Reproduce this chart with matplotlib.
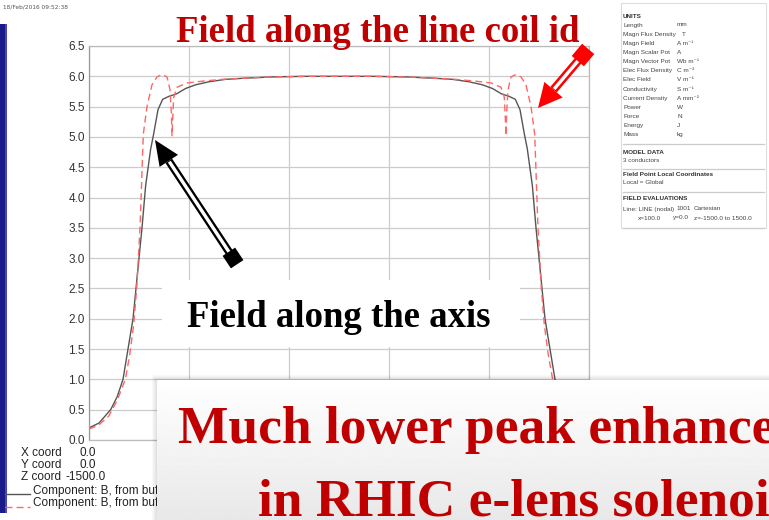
import numpy as np
import matplotlib
matplotlib.use("Agg")
import matplotlib.pyplot as plt
from matplotlib.patches import Rectangle, Polygon

# Bz along the line x=100, y=0 (red) and on axis (black), z in mm, B in T
z_axis = [-1500, -1440, -1370, -1330, -1296, -1266, -1236, -1218, -1200, -1182,
          -1160, -1130, -1112, -1086, -1058, -1020, -975, -920, -860, -780,
          -680, -560, -400, -200, 0, 200, 400, 560, 680, 780,
          860, 920, 975, 1020, 1058, 1086, 1112, 1130, 1160, 1182,
          1200, 1218, 1236, 1266, 1296, 1330, 1370, 1440, 1500]
b_axis = [0.20, 0.28, 0.50, 0.72, 1.00, 1.50, 2.00, 2.50, 3.00, 3.50,
          4.20, 4.80, 5.05, 5.45, 5.62, 5.67, 5.71, 5.80, 5.86, 5.91,
          5.95, 5.97, 5.99, 6.00, 6.00, 6.00, 5.99, 5.97, 5.95, 5.91,
          5.86, 5.80, 5.71, 5.67, 5.62, 5.45, 5.05, 4.80, 4.20, 3.50,
          3.00, 2.50, 2.00, 1.50, 1.00, 0.72, 0.50, 0.28, 0.20]

z_coil = [-1500, -1440, -1380, -1330, -1282, -1256, -1232, -1214, -1204, -1194,
          -1186, -1180, -1174, -1152, -1122, -1092, -1062, -1032, -1014, -1006,
          -1002, -998, -992, -972, -912, -820, -700, -560, -400, -200,
          0,
          200, 400, 560, 700, 820, 912, 972, 992, 998,
          1002, 1006, 1014, 1032, 1062, 1092, 1122, 1152, 1174, 1180,
          1186, 1194, 1204, 1214, 1232, 1256, 1282, 1330, 1380, 1440, 1500]
b_coil = [0.18, 0.25, 0.40, 0.66, 1.00, 1.40, 1.90, 2.50, 3.00, 3.50,
          4.10, 4.60, 5.05, 5.50, 5.86, 5.99, 6.03, 5.99, 5.78, 5.40,
          5.02, 5.30, 5.65, 5.82, 5.89, 5.92, 5.95, 5.97, 5.99, 6.00,
          6.00,
          6.00, 5.99, 5.97, 5.95, 5.92, 5.89, 5.82, 5.65, 5.30,
          5.02, 5.40, 5.78, 5.99, 6.03, 5.99, 5.86, 5.50, 5.05, 4.60,
          4.10, 3.50, 3.00, 2.50, 1.90, 1.40, 1.00, 0.66, 0.40, 0.25, 0.18]

y_ticks = [0.0, 0.5, 1.0, 1.5, 2.0, 2.5, 3.0, 3.5, 4.0, 4.5, 5.0, 5.5, 6.0, 6.5]
z_grid = [-1500, -900, -300, 300, 900, 1500]

units = [("Length", "mm"), ("Magn Flux Density", "T"), ("Magn Field", "A m\u207b\u00b9"),
         ("Magn Scalar Pot", "A"), ("Magn Vector Pot", "Wb m\u207b\u00b9"),
         ("Elec Flux Density", "C m\u207b\u00b2"), ("Elec Field", "V m\u207b\u00b9"),
         ("Conductivity", "S m\u207b\u00b9"), ("Current Density", "A mm\u207b\u00b2"),
         ("Power", "W"), ("Force", "N"), ("Energy", "J"), ("Mass", "kg")]

W, H = 769, 520
RED = "#c00000"
SERIF = "Liberation Serif"
SANS = "Liberation Sans"

fig = plt.figure(figsize=(W / 100, H / 100), dpi=100)
fig.patch.set_facecolor("white")


def px_rect(x0, y0, x1, y1):
    return [x0 / W, 1 - y1 / H, (x1 - x0) / W, (y1 - y0) / H]


# ---- main field plot ----
ax = fig.add_axes(px_rect(89, 46, 589, 440), zorder=1)
ax.plot(z_axis, b_axis, color="#555555", lw=1.0)
ax.plot(z_coil, b_coil, color="#ff6666", lw=1.0, dashes=(5, 3))
ax.set_xlim(-1500, 1500)
ax.set_ylim(0, 6.5)
ax.set_xticks(z_grid)
ax.set_xticklabels([])
ax.set_yticks(y_ticks)
ax.set_yticklabels([f"{v:.1f}" for v in y_ticks], fontfamily=SANS, fontsize=8.5, color="#333333")
ax.tick_params(length=0, pad=3)
ax.grid(True, color="#cccccc", lw=0.9)
for side, sp in ax.spines.items():
    sp.set_color("#bbbbbb")
    sp.set_linewidth(0.9)
ax.spines["left"].set_color("#999999")

# ---- annotations layer, pixel coordinates ----
deco = fig.add_axes([0, 0, 1, 1], zorder=2)
deco.set_xlim(0, W)
deco.set_ylim(H, 0)
deco.axis("off")
deco.patch.set_alpha(0)


def hollow_arrow(a, tail, tip, color, shaft=8.0, core=3.4, head_len=25, head_w=22, sq=15):
    tail = np.asarray(tail, float)
    tip = np.asarray(tip, float)
    u = (tip - tail) / np.hypot(*(tip - tail))
    n = np.array([-u[1], u[0]])
    base = tip - u * head_len
    a.add_patch(Polygon([tail + n * shaft / 2, base + n * shaft / 2,
                         base - n * shaft / 2, tail - n * shaft / 2], color=color, lw=0))
    a.add_patch(Polygon([tail + n * core / 2, base - u + n * core / 2,
                         base - u - n * core / 2, tail - n * core / 2], color="white", lw=0))
    a.add_patch(Polygon([tip, base + n * head_w / 2, base - n * head_w / 2], color=color, lw=0))
    h = sq / 2
    a.add_patch(Polygon([tail + u * h + n * h, tail + u * h - n * h,
                         tail - u * h - n * h, tail - u * h + n * h], color=color, lw=0))


# blank label area over the grid
deco.add_patch(Rectangle((162, 280), 358, 67, facecolor="white", lw=0))
deco.text(187, 327, "Field along the axis", fontfamily=SERIF, fontweight="bold",
          fontsize=26.5, color="black", va="baseline")
deco.text(176, 42, "Field along the line coil id", fontfamily=SERIF, fontweight="bold",
          fontsize=26.5, color=RED, va="baseline")

hollow_arrow(deco, (233, 258), (155, 140), "black")
hollow_arrow(deco, (583, 55), (538, 108), "#ff0000", shaft=8.5, core=3.4, head_len=24, head_w=24, sq=16)

# window frame stripe and timestamp
deco.add_patch(Rectangle((0, 24), 6, 489, facecolor="#1b1a8a", lw=0))
deco.add_patch(Rectangle((5, 24), 1.5, 489, facecolor="#4a48b0", lw=0))
deco.text(3, 7, "18/Feb/2016 09:52:38", fontfamily="DejaVu Sans", fontsize=4.2,
          color="#555555", va="center")

# coordinates / component legend under the plot
leg_kw = dict(fontfamily=SANS, fontsize=8.5, color="#222222", va="center")
deco.text(21, 453, "X coord", **leg_kw)
deco.text(79, 453, "0.0", **leg_kw)
deco.text(21, 465, "Y coord", **leg_kw)
deco.text(79, 465, "0.0", **leg_kw)
deco.text(21, 477, "Z coord", **leg_kw)
deco.text(66, 477, "-1500.0", **leg_kw)
deco.text(33, 491, "Component: B, from buffer", **leg_kw)
deco.text(33, 503, "Component: B, from buffer", **leg_kw)
deco.plot([5, 30], [494, 494], color="#555555", lw=1.0)
deco.plot([5, 30], [507, 507], color="#ff6666", lw=1.0, dashes=(5, 3))

# units / model panel
deco.add_patch(Rectangle((621, 3), 145, 225, facecolor="white", edgecolor="#dddddd", lw=0.8))
small = dict(fontfamily=[SANS, "DejaVu Sans"], fontsize=4.6, color="#444444", va="center")
bold = dict(small, fontweight="bold", color="#333333")
deco.text(623, 16, "UNITS", **bold)
for i, (name, unit) in enumerate(units):
    y = 25 + i * 9.15
    deco.text(623, y, name, **small)
    deco.text(682 if name == "Magn Flux Density" else 677, y, unit, **small)
for y in (144, 169, 192, 228):
    deco.plot([623, 764], [y, y], color="#cccccc", lw=0.9)
deco.text(623, 152, "MODEL DATA", **bold)
deco.text(623, 160, "3 conductors", **small)
deco.text(623, 175, "Field Point Local Coordinates", **bold)
deco.text(623, 183, "Local = Global", **small)
deco.text(623, 199, "FIELD EVALUATIONS", **bold)
deco.text(623, 209, "Line: LINE (nodal)", **small)
deco.text(676, 209, "1001", **small)
deco.text(694, 209, "Cartesian", **small)
deco.text(638, 218, "x=100.0", **small)
deco.text(673, 218, "y=0.0", **small)
deco.text(694, 218, "z=-1500.0 to 1500.0", **small)

# drop shadow for the slide box
for k in range(1, 6):
    deco.add_patch(Rectangle((157 - k, 380 - k), W, H, facecolor="black", alpha=0.025, lw=0))

# ---- slide text box on top ----
slide = fig.add_axes(px_rect(157, 380, W, H), zorder=3)
slide.set_xlim(157, W)
slide.set_ylim(H, 380)
slide.imshow(np.linspace(1.0, 0.91, 100).reshape(-1, 1), cmap="gray", vmin=0, vmax=1,
             aspect="auto", extent=(157, W, H, 380))
slide.axis("off")
slide.text(178, 443, "Much lower peak enhancement", fontfamily=SERIF, fontweight="bold",
           fontsize=38.5, color=RED, va="baseline", clip_on=True)
slide.text(258, 516, "in RHIC e-lens solenoid", fontfamily=SERIF, fontweight="bold",
           fontsize=38.5, color=RED, va="baseline", clip_on=True)

fig.savefig("out.png", dpi=100)
